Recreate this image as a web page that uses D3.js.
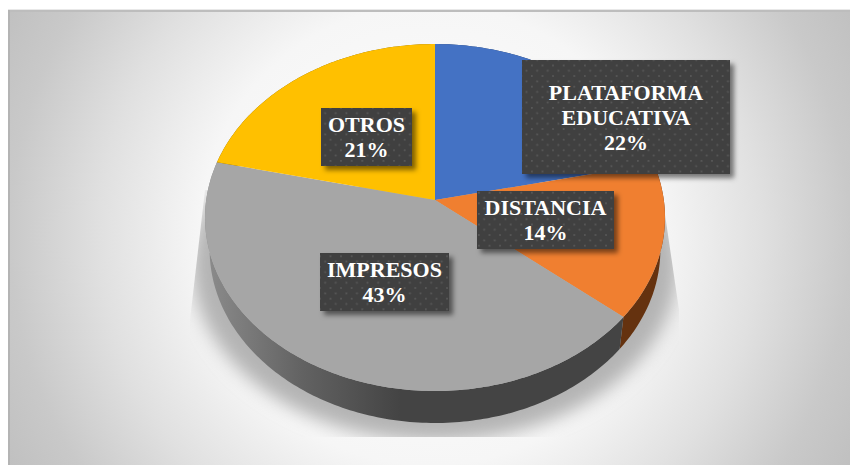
<!DOCTYPE html>
<html>
<head>
<meta charset="utf-8">
<script src="https://cdn.jsdelivr.net/npm/d3@7"></script>
<style>
  body { margin: 0; background: #fff; }
  svg { display: block; }
</style>
</head>
<body>
<div id="my_dataviz"></div>
<script>
// data, labels round them to whole percents
var categories = ["PLATAFORMA EDUCATIVA", "DISTANCIA", "IMPRESOS", "OTROS"];
var shares = [0.2155, 0.1445, 0.426, 0.214];
var topColors = ["#4472c4", "#f07f30", "#a6a6a6", "#ffc000"];
var sideColors = ["#223962", "#65320f", "url(#greySide)", "#7f6000"];

// label boxes were dragged by hand in the original, so they are placed by hand too
var labelBoxes = [
  { x: 522, y: 60, w: 208, h: 114, lines: ["PLATAFORMA", "EDUCATIVA"] },
  { x: 477, y: 191, w: 137, h: 58, lines: ["DISTANCIA"] },
  { x: 320, y: 253, w: 129, h: 58, lines: ["IMPRESOS"] },
  { x: 321, y: 108, w: 91, h: 58, lines: ["OTROS"] }
];

var width = 850, height = 465;

var svg = d3.select("#my_dataviz")
  .append("svg")
  .attr("width", width)
  .attr("height", height)
  .attr("viewBox", `0 0 ${width} ${height}`);

var defs = svg.append("defs");

// panel background
var bg = defs.append("radialGradient")
  .attr("id", "panelFill")
  .attr("gradientUnits", "userSpaceOnUse")
  .attr("cx", 430).attr("cy", 235).attr("r", 480);
[[0, "#ffffff"], [0.48, "#f6f6f6"], [0.69, "#e0e0e0"], [0.875, "#c9c9c9"], [1, "#c0c0c0"]]
  .forEach(function(s) { bg.append("stop").attr("offset", s[0]).attr("stop-color", s[1]); });

// outer wall of the grey slice goes dark towards the middle
var side = defs.append("linearGradient")
  .attr("id", "greySide")
  .attr("gradientUnits", "userSpaceOnUse")
  .attr("x1", 205).attr("x2", 400).attr("y1", 0).attr("y2", 0);
[[0, "#8c8c8c"], [0.5, "#626262"], [1, "#444444"]]
  .forEach(function(s) { side.append("stop").attr("offset", s[0]).attr("stop-color", s[1]); });

// dotted fill of the label boxes
var dots = defs.append("pattern")
  .attr("id", "dots")
  .attr("patternUnits", "userSpaceOnUse")
  .attr("width", 10.6).attr("height", 10.6);
dots.append("rect").attr("width", 10.6).attr("height", 10.6).attr("fill", "#404040");
dots.append("rect").attr("x", 1).attr("y", 1).attr("width", 1.7).attr("height", 1.7).attr("fill", "#5a5a5a");
dots.append("rect").attr("x", 6.3).attr("y", 6.3).attr("width", 1.7).attr("height", 1.7).attr("fill", "#5a5a5a");

defs.append("filter")
  .attr("id", "boxShadow")
  .attr("x", "-20%").attr("y", "-20%").attr("width", "140%").attr("height", "140%")
  .append("feDropShadow")
  .attr("dx", 4).attr("dy", 4).attr("stdDeviation", 2.5)
  .attr("flood-color", "#000").attr("flood-opacity", 0.5);

defs.append("filter")
  .attr("id", "softShadow")
  .attr("x", "-20%").attr("y", "-20%").attr("width", "140%").attr("height", "140%")
  .append("feGaussianBlur")
  .attr("stdDeviation", 9);

defs.append("clipPath")
  .attr("id", "shadowClip")
  .append("polygon")
  .attr("points", "205,190 190,320 190,437 680,437 679,310 660,180");

// panel
svg.append("rect")
  .attr("x", 8).attr("y", 10)
  .attr("width", width - 8).attr("height", height - 10)
  .attr("fill", "url(#panelFill)");
svg.append("rect").attr("x", 8).attr("y", 9).attr("width", width - 8).attr("height", 1).attr("fill", "#e8e8e8");
svg.append("rect").attr("x", 8).attr("y", 10).attr("width", width - 8).attr("height", 2).attr("fill", "#bdbdbd");
svg.append("rect").attr("x", 8).attr("y", 10).attr("width", 2).attr("height", height - 10).attr("fill", "#b4b4b4");

// tilted pie: a flat circle seen in perspective
var cx = 435, cy = 200;
var radiusX = 228.8, radiusY = 171.7, tilt = 0.101;
var depth = 32, shrink = 0.98;

function project(angle) {
  var u = Math.sin(angle), v = -Math.cos(angle);
  var s = 1 / (1 - tilt * v);
  return [cx + radiusX * u * s, cy + radiusY * v * s];
}
function lower(p) {
  return [cx + (p[0] - cx) * shrink, p[1] + depth];
}
function rimPoints(d) {
  var n = Math.max(2, Math.ceil((d.endAngle - d.startAngle) * 60));
  return d3.range(n + 1).map(function(i) {
    return project(d.startAngle + (d.endAngle - d.startAngle) * i / n);
  });
}

var slices = d3.pie().sort(null).value(function(d) { return d; })(shares);
var line = d3.line().curve(d3.curveLinear);

// soft shadow under the pie
svg.append("g")
  .attr("clip-path", "url(#shadowClip)")
  .append("ellipse")
  .attr("cx", cx).attr("cy", 265)
  .attr("rx", 243).attr("ry", 176)
  .attr("fill", "#b4b4b4")
  .attr("filter", "url(#softShadow)");

// walls first, the top face paints over whatever is hidden
svg.selectAll("path.side")
  .data(slices)
  .enter()
  .append("path")
    .attr("class", "side")
    .attr("d", function(d) {
      var rim = rimPoints(d);
      return line(rim.concat(rim.map(lower).reverse())) + "Z";
    })
    .attr("fill", function(d, i) { return sideColors[i]; });

// top face
svg.selectAll("path.top")
  .data(slices)
  .enter()
  .append("path")
    .attr("class", "top")
    .attr("d", function(d) { return line([[cx, cy]].concat(rimPoints(d))) + "Z"; })
    .attr("fill", function(d, i) { return topColors[i]; });

// labels
var labels = svg.selectAll("g.label")
  .data(labelBoxes)
  .enter()
  .append("g")
    .attr("class", "label");

labels.append("rect")
  .attr("x", function(d) { return d.x; })
  .attr("y", function(d) { return d.y; })
  .attr("width", function(d) { return d.w; })
  .attr("height", function(d) { return d.h; })
  .attr("fill", "url(#dots)")
  .attr("filter", "url(#boxShadow)");

labels.each(function(d, i) {
  var rows = d.lines.concat(d3.format(".0%")(shares[i]));
  var first = d.y + d.h / 2 - rows.length * 25 / 2 + 20;
  d3.select(this).selectAll("text")
    .data(rows)
    .enter()
    .append("text")
      .attr("x", d.x + d.w / 2)
      .attr("y", function(r, j) { return first + j * 25; })
      .attr("text-anchor", "middle")
      .attr("font-family", "'Liberation Serif', serif")
      .attr("font-weight", "bold")
      .attr("font-size", 22)
      .attr("fill", "#ffffff")
      .text(function(r) { return r; });
});
</script>
</body>
</html>
